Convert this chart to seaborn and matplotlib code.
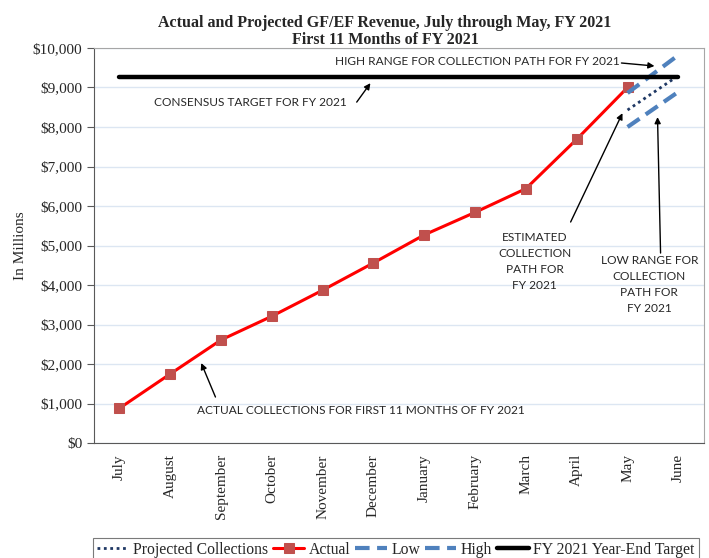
import matplotlib
matplotlib.use("Agg")
import matplotlib.pyplot as plt
import numpy as np
import pandas as pd
import seaborn as sns
from matplotlib.ticker import FuncFormatter, MultipleLocator, FixedLocator

# Data (millions of dollars)
months = ["July", "August", "September", "October", "November", "December",
          "January", "February", "March", "April", "May", "June"]
actual = [880, 1750, 2610, 3210, 3870, 4560, 5270, 5840, 6440, 7690, 9000]
proj_months = ["May", "June"]
projected = [8430, 9300]
low = [8000, 8890]
high = [8860, 9820]
target = [9270] * 12

sns.set_style("white")
serif = ["Liberation Serif", "DejaVu Serif"]
sans = ["Lato", "DejaVu Sans"]
plt.rcParams["font.family"] = serif

pos = {m: i for i, m in enumerate(months)}
df_act = pd.DataFrame({"x": [pos[m] for m in months[:11]], "value": actual})
df_tgt = pd.DataFrame({"x": [pos[m] for m in months], "value": target})
px = [pos[m] for m in proj_months]
df_proj = pd.DataFrame({"x": px, "value": projected})
df_low = pd.DataFrame({"x": px, "value": low})
df_high = pd.DataFrame({"x": px, "value": high})

fig = plt.figure(figsize=(7.09, 5.58), dpi=100)
ax = fig.add_axes([0.1326, 0.206, 0.860, 0.708])

sns.lineplot(data=df_proj, x="x", y="value", ax=ax, color="#1F3864", lw=2,
             linestyle=(0, (1, 1.3)), label="Projected Collections")
sns.lineplot(data=df_act, x="x", y="value", ax=ax, color="#FF0000", lw=2.2,
             marker="s", markersize=7, markerfacecolor="#C0504D",
             markeredgecolor="#C0504D", label="Actual")
sns.lineplot(data=df_low, x="x", y="value", ax=ax, color="#4F81BD", lw=3,
             linestyle=(0, (3.5, 1.8)), label="Low")
sns.lineplot(data=df_high, x="x", y="value", ax=ax, color="#4F81BD", lw=3,
             linestyle=(0, (3.5, 1.8)), label="High")
sns.lineplot(data=df_tgt, x="x", y="value", ax=ax, color="black", lw=3.2,
             label="FY 2021 Year-End Target")

ax.set_xlim(-0.5, 11.5)
ax.set_ylim(0, 10000)
ax.yaxis.set_major_locator(MultipleLocator(1000))
ax.yaxis.set_major_formatter(FuncFormatter(lambda v, p: "${:,.0f}".format(v)))
ax.grid(axis="y", color="#DCE6F2", lw=1)
ax.set_axisbelow(True)

ax.xaxis.set_major_locator(FixedLocator(range(12)))
ax.set_xticklabels(months, rotation=90)
ax.xaxis.set_minor_locator(FixedLocator(np.arange(-0.5, 12, 1)))
ax.tick_params(axis="x", which="major", length=0, pad=8, labelsize=11)
ax.tick_params(axis="x", which="minor", length=5, color="#595959", direction="out")
ax.tick_params(axis="y", length=5, color="#595959", direction="out", labelsize=11, left=True)
ax.set_xlabel("")
ax.set_ylabel("In Millions", fontsize=11)

for s in ["left", "bottom"]:
    ax.spines[s].set_color("#595959")
for s in ["top", "right"]:
    ax.spines[s].set_color("#A6A6A6")

fig.text(0.543, 0.974, "Actual and Projected GF/EF Revenue, July through May, FY 2021\nFirst 11 Months of FY 2021",
         ha="center", va="top", fontsize=11.5, fontweight="bold", linespacing=1.15)

# annotations: texts and arrows drawn separately
akw = dict(arrowstyle="-|>", color="black", lw=1, mutation_scale=9, shrinkA=0, shrinkB=0)
fs = 8.6
ax.text(9.84, 9670, "HIGH RANGE FOR COLLECTION PATH FOR FY 2021", ha="right", va="center",
        fontsize=fs, family=sans)
ax.annotate("", xy=(10.53, 9544), xytext=(9.88, 9620), arrowprops=akw)
ax.text(0.69, 8610, "CONSENSUS TARGET FOR FY 2021", ha="left", va="center",
        fontsize=fs, family=sans)
ax.annotate("", xy=(4.94, 9110), xytext=(4.67, 8630), arrowprops=akw)
ax.text(8.17, 5330, "ESTIMATED\nCOLLECTION\nPATH FOR\nFY 2021", ha="center", va="top",
        fontsize=fs, family=sans, linespacing=1.55)
ax.annotate("", xy=(9.90, 8350), xytext=(8.88, 5595), arrowprops=akw)
ax.text(10.43, 4750, "LOW RANGE FOR\nCOLLECTION\nPATH FOR\nFY 2021", ha="center", va="top",
        fontsize=fs, family=sans, linespacing=1.55)
ax.annotate("", xy=(10.59, 8250), xytext=(10.65, 4810), arrowprops=akw)
ax.text(1.52, 835, "ACTUAL COLLECTIONS FOR FIRST 11 MONTHS OF FY 2021", ha="left", va="center",
        fontsize=fs, family=sans)
ax.annotate("", xy=(1.61, 2025), xytext=(1.89, 1165), arrowprops=akw)

leg = ax.legend(loc="upper left", bbox_to_anchor=(93 / 709, 1 - 538 / 558),
                bbox_transform=fig.transFigure, ncol=5, frameon=True, fontsize=11.3,
                handlelength=2.0, handletextpad=0.3, columnspacing=0.3,
                borderpad=0.25, borderaxespad=0, fancybox=False, edgecolor="#595959")
leg.get_frame().set_linewidth(0.8)

fig.savefig("out.png", dpi=100)
